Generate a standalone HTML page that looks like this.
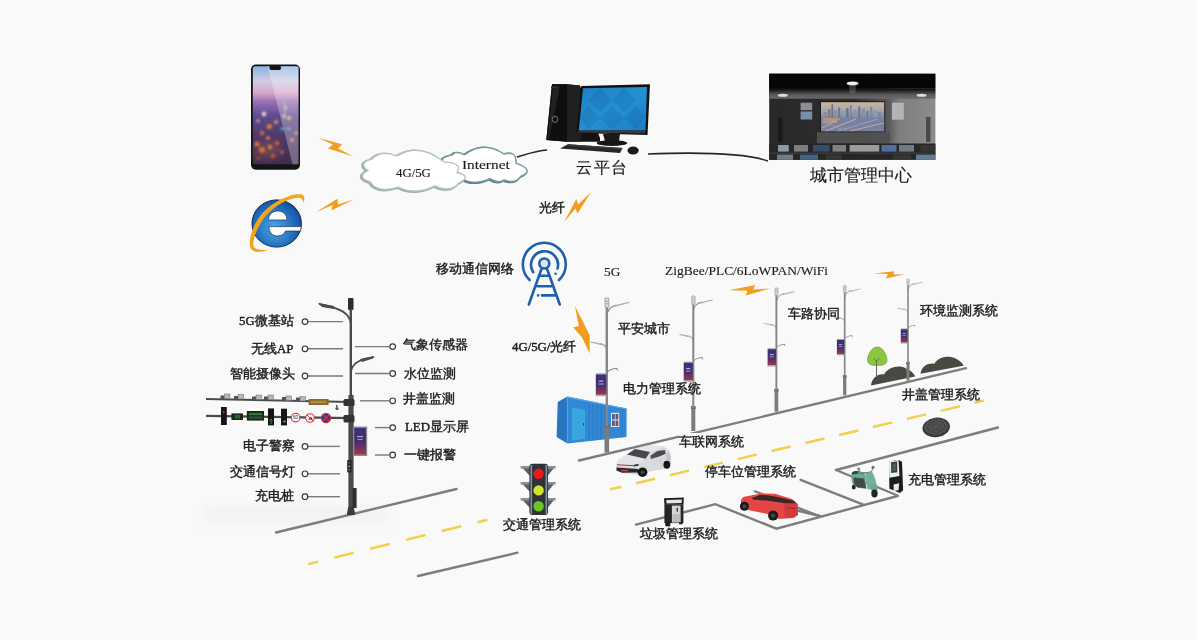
<!DOCTYPE html>
<html><head><meta charset="utf-8">
<style>
html,body{margin:0;padding:0;}
body{width:1197px;height:640px;overflow:hidden;background:#f9f9f9;position:relative;font-family:"Liberation Serif",serif;color:#222;}
svg{position:absolute;left:0;top:0;}
.l{-webkit-text-stroke:0.12px #1a1a1a !important;}
.t{position:absolute;white-space:nowrap;line-height:1;font-size:12.8px;color:#1a1a1a;-webkit-text-stroke:0.4px #1a1a1a;will-change:transform;}
</style></head><body>
<svg width="1197" height="640" viewBox="0 0 1197 640">
<defs>
  <filter id="blur05" x="-10%" y="-10%" width="120%" height="120%"><feGaussianBlur stdDeviation="0.6"/></filter>
  <filter id="blur1" x="-20%" y="-20%" width="140%" height="140%"><feGaussianBlur stdDeviation="1"/></filter>
  <filter id="blur3" x="-20%" y="-100%" width="140%" height="300%"><feGaussianBlur stdDeviation="4"/></filter>
  <linearGradient id="phoneScr" x1="0" y1="0" x2="0" y2="1">
    <stop offset="0" stop-color="#88b4e4"/>
    <stop offset="0.15" stop-color="#d0cce4"/>
    <stop offset="0.27" stop-color="#d8a8c8"/>
    <stop offset="0.36" stop-color="#9a70b8"/>
    <stop offset="0.5" stop-color="#604c90"/>
    <stop offset="0.7" stop-color="#4e3a6a"/>
    <stop offset="1" stop-color="#3e2c50"/>
  </linearGradient>
  <radialGradient id="ieg" cx="0.45" cy="0.55" r="0.6">
    <stop offset="0" stop-color="#4aa4e6"/>
    <stop offset="0.5" stop-color="#2a7cc8"/>
    <stop offset="0.88" stop-color="#1556a6"/>
    <stop offset="1" stop-color="#0c3470"/>
  </radialGradient>
  <linearGradient id="wall" x1="0" y1="0" x2="1" y2="0">
    <stop offset="0" stop-color="#282828"/>
    <stop offset="0.5" stop-color="#2e2e2e"/>
    <stop offset="0.72" stop-color="#5a5a5a"/>
    <stop offset="0.78" stop-color="#7e7e7e"/>
    <stop offset="1" stop-color="#8c8c8c"/>
  </linearGradient>
  <linearGradient id="cove" x1="0" y1="0" x2="0" y2="1">
    <stop offset="0" stop-color="#0a0a0a"/>
    <stop offset="0.6" stop-color="#5a5a5a"/>
    <stop offset="1" stop-color="#6a6a6a"/>
  </linearGradient>
  <linearGradient id="scr" x1="0" y1="0" x2="1" y2="1">
    <stop offset="0" stop-color="#1f7fc4"/>
    <stop offset="0.5" stop-color="#2390d4"/>
    <stop offset="1" stop-color="#1a80c8"/>
  </linearGradient>
  <linearGradient id="city" x1="0" y1="0" x2="0" y2="1">
    <stop offset="0" stop-color="#c8b4a0"/>
    <stop offset="0.25" stop-color="#b0a8a8"/>
    <stop offset="0.5" stop-color="#8a8aa0"/>
    <stop offset="0.75" stop-color="#7a7a98"/>
    <stop offset="1" stop-color="#5a6a88"/>
  </linearGradient>
  <linearGradient id="banner" x1="0" y1="0" x2="0" y2="1">
    <stop offset="0" stop-color="#3a2f7a"/>
    <stop offset="0.55" stop-color="#4a2f70"/>
    <stop offset="1" stop-color="#a03848"/>
  </linearGradient>
  <linearGradient id="cont" x1="0" y1="0" x2="1" y2="0">
    <stop offset="0" stop-color="#2f7fd0"/>
    <stop offset="1" stop-color="#3b95e0"/>
  </linearGradient>
  <linearGradient id="shadow" x1="0" y1="0" x2="0" y2="1">
    <stop offset="0" stop-color="#f9f9f9"/>
    <stop offset="0.5" stop-color="#efefef"/>
    <stop offset="1" stop-color="#f9f9f9"/>
  </linearGradient>
</defs>

<!-- ========== PHONE ========== -->
<rect x="251" y="64.5" width="49" height="105.2" rx="4.8" fill="#141414"/>
<rect x="252.8" y="66.3" width="45.7" height="97.9" rx="2.5" fill="url(#phoneScr)"/>
<ellipse cx="268" cy="150" rx="14" ry="9" fill="#a05a48" opacity="0.45" filter="url(#blur3)"/>
<g opacity="0.9" filter="url(#blur1)">
  <circle cx="264" cy="114" r="2.4" fill="#e8d8e0"/>
  <circle cx="258" cy="121" r="1.8" fill="#c8a0b0"/>
  <circle cx="269.4" cy="126.5" r="2.6" fill="#e8843a"/>
  <circle cx="276" cy="122" r="2" fill="#e0a060"/>
  <circle cx="262" cy="133" r="2.4" fill="#c87048"/>
  <circle cx="257" cy="144" r="2.6" fill="#e0783a"/>
  <circle cx="262" cy="150" r="3" fill="#d8743a"/>
  <circle cx="270" cy="147" r="2.2" fill="#e08848"/>
  <circle cx="277" cy="143" r="2.2" fill="#c86a3a"/>
  <circle cx="268" cy="138" r="1.8" fill="#f0a060"/>
  <circle cx="273" cy="156" r="2.4" fill="#b8583a"/>
  <circle cx="258" cy="158" r="2" fill="#a04a3a"/>
  <circle cx="282" cy="152" r="1.8" fill="#c86a4a"/>
  <circle cx="289" cy="118" r="2" fill="#f0b870"/>
  <circle cx="284" cy="116" r="1.6" fill="#f8d090"/>
  <circle cx="292" cy="140" r="2" fill="#d88a5a"/>
  <circle cx="296" cy="133" r="1.6" fill="#f0a070"/>
  <circle cx="286" cy="108" r="1.2" fill="#f8e0b0"/>
  <rect x="284" y="100" width="1.2" height="20" fill="#f0c8a0" opacity="0.6"/>
  <rect x="280.5" y="127.5" width="3.5" height="2.5" fill="#40c8d8"/>
  <rect x="287" y="127.5" width="3.5" height="2.5" fill="#40b0d0"/>
</g>
<polygon points="267.5,66.3 298.5,66.3 298.5,164.2 292.5,164.2" fill="#ffffff" opacity="0.28"/>
<rect x="269.4" y="65.5" width="11.6" height="4.5" rx="2" fill="#141414"/>

<!-- ========== IE ========== -->
<ellipse cx="276.7" cy="223.5" rx="24.7" ry="23.6" fill="url(#ieg)" stroke="#0c2550" stroke-width="1"/>
<ellipse cx="277" cy="239" rx="15" ry="6" fill="#5ab8f0" opacity="0.25" filter="url(#blur3)"/>
<path d="M 268.5 220 C 268.5 214.5 272.5 211 277.8 211 C 283 211 287 214.5 287 220 Z" fill="#fff" stroke="#10305e" stroke-width="0.7"/>
<path d="M 269 226.6 L 301.2 226.6 L 300.6 231 L 285.6 231 C 284.4 234 281.4 236 277.2 236 C 272 236 269 232 269 226.6 Z" fill="#fff" stroke="#10305e" stroke-width="0.7"/>
<path d="M 269 249.5 C 262 252.8 253 253.2 250.6 248 C 248 242 251.5 226 262.5 213 C 274 200.5 292 193 301 194.3 C 304.8 195 305.2 199 303.2 203.2 C 303.4 199.6 301.5 197.6 298 197.7 C 289 198 275.5 205 266.5 215 C 257 226.5 252.6 240 253.4 245.8 C 254.5 250 262 250.8 269 249.5 Z" fill="#f2a617"/>

<!-- ========== BOLTS ========== -->
<g fill="#f29d1e">
  <polygon points="318,137.8 342.3,144.3 338,148.5 353.5,156.5 328,148.5 333,144.5"/>
  <polygon points="316.2,211.9 337.4,198.7 338,204.5 354.2,199.2 331.3,210.6 332.6,205"/>
  <polygon points="564.1,222.3 576.3,199.1 578.2,204.4 591,191.9 577.6,213.5 575.4,208.5"/>
  <polygon points="574.9,306.1 578.8,326 573.3,327.4 582.2,337.8 589.6,353.6 589.8,335.2"/>
  <polygon points="728.8,290.2 755.2,285.1 753.2,289.6 770.1,288.5 745.7,295.5 747.3,290.7"/>
  <polygon points="873.5,273.4 894.3,271.2 893.2,274.5 904.4,274.3 886,278.5 887.9,273.9"/>
</g>

<!-- ========== CLOUDS ========== -->
<path d="M 461.6 178.5 Q 444.4 179.8 447.5 166.0 Q 435.0 158.6 452.4 154.9 Q 455.5 150.1 464.6 154.8 Q 484.2 140.1 504.1 154.1 Q 517.0 150.4 515.9 163.1 Q 535.8 170.2 520.5 176.5 Q 515.7 184.2 504.2 179.9 Q 499.0 183.9 489.9 178.7 Q 474.3 185.8 461.6 178.5 Z" fill="#fff" stroke="#5f8088" stroke-width="2.6" transform="translate(-1,0.6)"/>
<path d="M 461.6 178.5 Q 444.4 179.8 447.5 166.0 Q 435.0 158.6 452.4 154.9 Q 455.5 150.1 464.6 154.8 Q 484.2 140.1 504.1 154.1 Q 517.0 150.4 515.9 163.1 Q 535.8 170.2 520.5 176.5 Q 515.7 184.2 504.2 179.9 Q 499.0 183.9 489.9 178.7 Q 474.3 185.8 461.6 178.5 Z" fill="#fff" stroke="#7c98a0" stroke-width="1.4"/>
<path d="M 370.2 181.8 Q 355.8 176.9 368.1 170.5 Q 357.7 163.1 371.7 159.2 Q 381.7 149.4 396.9 156.0 Q 419.4 141.9 444.3 162.2 Q 463.0 162.7 457.0 172.5 Q 472.8 176.2 458.6 183.2 Q 451.4 193.1 434.7 185.8 Q 415.5 195.6 398.3 187.0 Q 377.7 193.6 370.2 181.8 Z" fill="#fff" stroke="#a0b0b0" stroke-width="2.8" transform="translate(-1.2,0.6)"/>
<path d="M 370.2 181.8 Q 355.8 176.9 368.1 170.5 Q 357.7 163.1 371.7 159.2 Q 381.7 149.4 396.9 156.0 Q 419.4 141.9 444.3 162.2 Q 463.0 162.7 457.0 172.5 Q 472.8 176.2 458.6 183.2 Q 451.4 193.1 434.7 185.8 Q 415.5 195.6 398.3 187.0 Q 377.7 193.6 370.2 181.8 Z" fill="#fff" stroke="#b8c4c4" stroke-width="1.3"/>

<!-- ========== CONNECT LINES ========== -->
<path d="M 517 157 C 527 154 537 150.5 547 150" fill="none" stroke="#2a2420" stroke-width="1.6"/>
<path d="M 648 154 C 700 152 745 153 768 161" fill="none" stroke="#2a2420" stroke-width="1.6"/>

<!-- ========== COMPUTER ========== -->
<polygon points="552,84.3 567,84.3 580,85.5 600,138 600,141.8 567,141.8 546.3,139.9" fill="#141414"/>
<polygon points="567,84.3 580,85.5 581,141.8 567,141.8" fill="#202020"/>
<polygon points="552,84.3 567,84.3 567,141.8 546.3,139.9" fill="#0e0e0e"/>
<polygon points="553,86 560,86 549,139 547.5,139" fill="#2a2a2a" opacity="0.7"/>
<rect x="551" y="86.5" width="6" height="1.6" fill="#333"/>
<ellipse cx="555" cy="119.3" rx="2.8" ry="3.2" fill="none" stroke="#8a8a8a" stroke-width="0.8"/>
<polygon points="581.3,86.1 650,84.2 647.5,134.9 576.3,133" fill="#121212"/>
<polygon points="583,88.3 647,87 645.5,130.5 578.8,130.5" fill="url(#scr)"/>
<g opacity="0.12" fill="#0a3a70">
  <polygon points="600,88 612,100 600,112 588,100"/><polygon points="624,88 636,100 624,112 612,100"/>
  <polygon points="612,106 624,118 612,130 600,118"/><polygon points="636,106 646,116 636,130 624,118"/>
  <polygon points="588,106 600,118 588,130 580,118"/>
</g>
<polygon points="578.8,130.5 645.5,130.5 645,133.5 577.5,132.5" fill="#3a3a3a"/>
<polygon points="603,134 620,134 619,141 605,141" fill="#1a1a1a"/>
<ellipse cx="611.9" cy="143" rx="15.3" ry="3" fill="#161616"/>
<polygon points="568,144.3 622.5,148 620,153 560,148.6" fill="#262626"/>
<polygon points="568,144.3 622.5,148 621.5,149.5 566,145.8" fill="#3a3a3a"/>
<ellipse cx="633.1" cy="150.5" rx="5.6" ry="4" fill="#1a1a1a"/>

<!-- ========== CITY CENTER ========== -->
<rect x="769.2" y="73.7" width="166.2" height="86.1" fill="url(#wall)"/>
<rect x="769.2" y="73.7" width="166.2" height="15" fill="#060606"/>
<rect x="769.2" y="88.7" width="166.2" height="10" fill="url(#cove)"/>
<ellipse cx="852.6" cy="83.4" rx="6" ry="2" fill="#f0f0f0" filter="url(#blur05)"/>
<polygon points="848.5,84 856.7,84 855,93 850,93" fill="#bbb" opacity="0.25" filter="url(#blur05)"/>
<ellipse cx="782.8" cy="95.2" rx="5" ry="1.5" fill="#ddd" filter="url(#blur05)"/>
<ellipse cx="921.6" cy="95.2" rx="5" ry="1.5" fill="#ddd" filter="url(#blur05)"/>
<rect x="820" y="101.2" width="65.2" height="31.1" fill="#1a1a1a"/>
<rect x="821" y="102.2" width="63.2" height="29.1" fill="url(#city)"/>
<g>
  <rect x="824" y="112" width="3" height="6" fill="#8a8c98"/>
  <rect x="828" y="109" width="2.5" height="9" fill="#7a8090"/>
  <rect x="831.5" y="104" width="1.6" height="14" fill="#6a7488"/>
  <rect x="834" y="110" width="3" height="8" fill="#8a90a0"/>
  <rect x="838" y="107.5" width="2.2" height="10.5" fill="#707a90"/>
  <rect x="842" y="111" width="3" height="7" fill="#9098a8"/>
  <rect x="846" y="108" width="2.6" height="10" fill="#6a7890"/>
  <rect x="850" y="105" width="1.8" height="13" fill="#7a88a0"/>
  <rect x="853.5" y="110" width="3" height="8" fill="#8a94a8"/>
  <rect x="858" y="106.5" width="2.4" height="11.5" fill="#6a7a98"/>
  <rect x="862" y="108.5" width="3" height="9.5" fill="#8090a8"/>
  <rect x="866" y="111" width="2.5" height="7" fill="#7080a0"/>
  <rect x="870" y="107" width="2.4" height="11" fill="#7a8aa8"/>
  <rect x="874" y="110" width="3" height="8" fill="#8a98b0"/>
  <rect x="878" y="112" width="3" height="6" fill="#7a88a0"/>
</g>
<rect x="821" y="117.5" width="63.2" height="13.8" fill="#7a80a0"/>
<g stroke-width="0.9" opacity="0.9">
  <path d="M 822 128 L 840 118.5" stroke="#d0b890"/>
  <path d="M 826 131 L 856 119" stroke="#c8c0b0"/>
  <path d="M 838 131 L 878 119" stroke="#a8a8c0"/>
  <path d="M 850 131 L 884 123" stroke="#c0b8a8"/>
  <path d="M 821 121 L 846 131" stroke="#9a98b8"/>
</g>
<rect x="823" y="118" width="14" height="5" fill="#d8a868" opacity="0.55"/>
<rect x="800.6" y="102.7" width="11.6" height="7.5" fill="#8a8e96"/>
<rect x="800.6" y="111.5" width="11.6" height="8" fill="#7a90a8"/>
<rect x="891.9" y="102.7" width="11.9" height="17" fill="#b4b4b4"/>
<rect x="817" y="132.3" width="72.7" height="11.2" fill="#505050"/>
<rect x="778" y="117" width="4.6" height="25" fill="#1a1a1a"/>
<rect x="926" y="117" width="4.5" height="25" fill="#4a4a4a"/>
<rect x="769.2" y="143.5" width="166.2" height="16.3" fill="#262626"/>
<rect x="769.2" y="152.5" width="166.2" height="1.5" fill="#3a3a3a"/>
<g opacity="0.75">
  <rect x="778" y="145" width="10.7" height="6.6" fill="#a8c4e0"/>
  <rect x="794" y="145" width="14" height="6.6" fill="#9a9a9a"/>
  <rect x="813" y="145" width="16.6" height="6.6" fill="#3a5a80"/>
  <rect x="832.5" y="145" width="13.5" height="6.6" fill="#a0a0a0"/>
  <rect x="849.6" y="145" width="29.7" height="6.6" fill="#c4c4c4"/>
  <rect x="881.5" y="145" width="15" height="6.6" fill="#5a8ad0"/>
  <rect x="899" y="145" width="15" height="6.6" fill="#8a98a8"/>
  <rect x="920.4" y="145" width="15" height="6.6" fill="#3a3a3a"/>
  <rect x="777" y="154.6" width="16" height="5.2" fill="#8a9aa8"/>
  <rect x="800" y="154.6" width="18" height="5.2" fill="#4a7aa8"/>
  <rect x="826" y="154.6" width="16" height="5.2" fill="#3a3a3a"/>
  <rect x="893" y="154.6" width="18" height="5.2" fill="#3a3a3a"/>
  <rect x="916" y="154.6" width="19" height="5.2" fill="#7a9ab8"/>
</g>

<!-- ========== TOWER ICON ========== -->
<circle cx="544.3" cy="263.5" r="4.3" fill="#dfe5ee"/>
<g fill="none" stroke="#1f5faf" stroke-width="2.6" stroke-linecap="round">
  <path d="M 529.6 280 A 21.5 21.5 0 1 1 559 280"/>
  <path d="M 533.3 272.2 A 13.5 13.5 0 1 1 557.5 268.5"/>
  <circle cx="544.3" cy="263.5" r="5"/>
  <path d="M 541.3 269.5 L 528.8 304.5 M 547.3 269.5 L 559.8 304.5 M 539.4 275.7 L 549.4 275.7 M 537.6 286.3 L 551.5 286.3 M 542 295.4 L 555 295.4"/>
</g>
<circle cx="555.6" cy="273.8" r="1.3" fill="#1f5faf"/>
<circle cx="538.1" cy="295.4" r="1.3" fill="#1f5faf"/>

<!-- ========== ROADS ========== -->
<rect x="203" y="506" width="185" height="19" rx="6" fill="#f3f3f3" filter="url(#blur3)"/>
<g stroke="#7d7d7d" stroke-width="2.4" fill="none" stroke-linecap="round">
  <line x1="276" y1="532.5" x2="456.5" y2="489"/>
  <line x1="579" y1="460.5" x2="966" y2="368.2"/>
  <line x1="418" y1="576" x2="517.5" y2="552.7"/>
  <line x1="836" y1="470" x2="998" y2="427.5"/>
  <polyline points="636,524.6 715.3,504.2 776.5,528.7 897.5,496"/>
  <line x1="800.6" y1="479.8" x2="862.7" y2="504.3"/>
  <line x1="795" y1="510" x2="820" y2="516"/>
  <line x1="836" y1="470" x2="897.5" y2="495.5"/>
</g>
<line x1="308" y1="564.1" x2="487.5" y2="519.7" stroke="#f1d04a" stroke-width="2.5" stroke-dasharray="20.09 16.79" stroke-dashoffset="9.8"/>
<line x1="610" y1="489.4" x2="984" y2="400.6" stroke="#f1d04a" stroke-width="2.5" stroke-dasharray="19.6 15.2" stroke-dashoffset="8"/>


<!-- ========== CONTAINER ========== -->
<polygon points="557.7,401.9 567.5,396.4 567.5,443.4 556.6,436.9" fill="#2a76c4"/>
<polygon points="567.5,396.4 626.6,408.4 626.6,436.9 567.5,443.4" fill="#3088d6"/>
<g stroke="#2670b8" stroke-width="0.7" opacity="0.9">
  <line x1="589" y1="401.5" x2="589" y2="441"/><line x1="593" y1="402.3" x2="593" y2="440.5"/>
  <line x1="597" y1="403.1" x2="597" y2="440"/><line x1="601" y1="403.9" x2="601" y2="439.6"/>
  <line x1="605" y1="404.7" x2="605" y2="439.2"/><line x1="622" y1="407.5" x2="622" y2="437.4"/>
  <line x1="560" y1="401" x2="560" y2="438"/><line x1="563" y1="399" x2="563" y2="440"/>
</g>
<polygon points="567.5,396.4 626.6,408.4 626.6,409.6 567.5,397.8" fill="#5aa8e8"/>
<polygon points="571.9,407.2 585,410 585,438.6 571.9,441" fill="#3aa6e0"/>
<rect x="583" y="423" width="0.8" height="2.5" fill="#1a3a5a"/>
<rect x="611" y="412.8" width="8.2" height="14.2" fill="#e4e4ea"/>
<rect x="612" y="414" width="2.8" height="5.5" fill="#5a5a80"/><rect x="615.5" y="414" width="2.8" height="5.5" fill="#5a5a80"/>
<rect x="612" y="420.5" width="2.8" height="5.5" fill="#5a5a80"/><rect x="615.5" y="420.5" width="2.8" height="5.5" fill="#5a5a80"/>

<!-- ========== TRAFFIC LIGHT ========== -->
<g>
  <path d="M 520.6 466 L 530 466 L 530 476 Z M 520.6 482 L 530 482 L 530 492 Z M 520.6 498 L 530 498 L 530 508 Z" fill="#5a6068"/>
  <path d="M 555.6 466 L 547.5 466 L 547.5 476 Z M 555.6 482 L 547.5 482 L 547.5 492 Z M 555.6 498 L 547.5 498 L 547.5 508 Z" fill="#5a6068"/>
  <rect x="520.6" y="466" width="9" height="2.5" fill="#8a9098"/><rect x="546.6" y="466" width="9" height="2.5" fill="#8a9098"/>
  <rect x="520.6" y="482" width="9" height="2.5" fill="#8a9098"/><rect x="546.6" y="482" width="9" height="2.5" fill="#8a9098"/>
  <rect x="520.6" y="498" width="9" height="2.5" fill="#8a9098"/><rect x="546.6" y="498" width="9" height="2.5" fill="#8a9098"/>
  <rect x="529.4" y="463.8" width="18.6" height="51.2" rx="3" fill="#2e3338"/>
  <rect x="530.5" y="465" width="1.6" height="49" fill="#8a9098"/>
  <rect x="545.5" y="465" width="1.6" height="49" fill="#8a9098"/>
  <circle cx="538.6" cy="473.8" r="5.2" fill="#e21d1d"/>
  <circle cx="538.6" cy="490.4" r="5.2" fill="#d2e03a"/>
  <circle cx="538.6" cy="506.2" r="5.2" fill="#6cc62a"/>
</g>

<!-- ========== WHITE CAR ========== -->
<g>
  <path d="M 616.3 463.5 L 618.3 460.3 L 626.5 454.8 L 634.5 448.8 L 649.4 445.4 L 664 446.4 L 668.8 450.5 L 670.8 456.5 L 670.6 465 L 668 468.2 L 650 471.5 L 639 475 L 622 473 L 616.3 470.5 Z" fill="#d9d9de"/>
  <polygon points="635,449 649.4,445.5 665,446.6 650,451.9" fill="#e6e6ea"/>
  <polygon points="650.6,455.6 657.5,451 665,450 665.6,453.8 660,456.3 650.8,459" fill="#4a4a50"/>
  <polygon points="668.8,450.5 670.8,456.5 670.6,465 668,468.2 666,455" fill="#c4c4ca"/>
  <polygon points="618.1,460.6 626.9,454.4 645.6,458.8 638.1,465 616.3,464" fill="#e4e4e8"/>
  <polygon points="626.9,454.4 635,449.1 650,451.9 645.6,458.8" fill="#46464c"/>
  <path d="M 617 464.8 L 633 465.6" stroke="#c83030" stroke-width="1"/>
  <path d="M 633.5 465.8 L 638.5 464.6" stroke="#2a2a2a" stroke-width="1.6"/>
  <polygon points="616.5,467.5 638,469 638,472.5 622,472.8 616.5,470.5" fill="#2a2a2a"/>
  <rect x="621" y="469.8" width="7" height="1.6" fill="#c84040"/>
  <path d="M 660 458 L 662 466" stroke="#b8b8be" stroke-width="0.6"/>
  <circle cx="642.5" cy="472.2" r="4.8" fill="#141414"/>
  <circle cx="642.5" cy="472.2" r="2" fill="#444"/>
  <ellipse cx="666.8" cy="464.8" rx="3.4" ry="4" fill="#141414"/>
</g>

<!-- ========== RED CAR ========== -->
<line x1="754" y1="491" x2="820.6" y2="516.5" stroke="#7d7d7d" stroke-width="2.4"/>
<g>
  <path d="M 740.9 500.6 L 743.1 496.9 L 751.9 495.3 L 755.6 494.4 L 761.3 493.4 L 775 493.8 L 791.3 498.8 L 795 501.3 L 797.5 503.8 L 797.8 515 L 793.1 518.1 L 778.8 519 L 770 514.4 L 748.1 510 L 741.3 509.4 Z" fill="#e44646"/>
  <polygon points="751.9,498.1 760,495 767.5,495.3 780,497.5 783.8,503.1 766.3,500.6 753,499.4" fill="#3a2626"/>
  <polygon points="780,497.5 793,500.6 796,503.4 783.8,503.4" fill="#3a2626"/>
  <polygon points="783.8,503.4 797.6,503.8 797.8,515 793.1,518.1 785,518" fill="#d43a3a"/>
  <path d="M 787 508 L 795 508.5" stroke="#a02828" stroke-width="1.2"/>
  <circle cx="773.1" cy="515.6" r="5" fill="#1a1a1a"/>
  <circle cx="773.1" cy="515.6" r="2.2" fill="#444"/>
  <circle cx="744.4" cy="506.3" r="4.5" fill="#1a1a1a"/>
  <circle cx="744.4" cy="506.3" r="2" fill="#444"/>
</g>

<!-- ========== SCOOTER ========== -->
<g>
  <path d="M 851 476.5 C 850.8 471.8 854 470.5 858 471 L 864.5 472.3 L 866.2 478 L 866.5 489 L 858 487.8 L 852.5 484 Z" fill="#6aa898"/>
  <path d="M 853.5 477.5 L 864 478.5 L 866 488.3 L 857 487.2 L 854 483 Z" fill="#404a48"/>
  <path d="M 852 472.8 C 853 471.2 856 470.8 858.5 471.3 L 857.5 474 C 855.5 473.8 853.5 474 852 474.6 Z" fill="#3a4644"/>
  <path d="M 865.6 472.7 L 872.3 472.2 C 874.6 476 876.2 481 876.6 486 L 873 489.5 L 867.4 489.3 Z" fill="#74ae9e"/>
  <path d="M 870.4 485 L 877.2 484.4 L 877.6 490.2 L 871 490.6 Z" fill="#6aa898"/>
  <ellipse cx="874.5" cy="493.6" rx="3.2" ry="4" fill="#242424"/>
  <ellipse cx="853.8" cy="487" rx="2" ry="2.6" fill="#2a2a2a"/>
  <path d="M 858.7 469.5 L 860 473.5 M 873 467.8 L 871.5 471.8 M 860 473.5 L 871.5 471.8" stroke="#5a6866" stroke-width="0.9" fill="none"/>
  <circle cx="858.7" cy="469.1" r="1.6" fill="#7e8e8c"/>
  <circle cx="873" cy="467.3" r="1.5" fill="#5e6e6c"/>
</g>

<!-- ========== CHARGER ========== -->
<g>
  <polygon points="889,461.3 898.5,460 902,461.7 903.1,490.2 900,493 889.4,488.8" fill="#1c1c1c"/>
  <polygon points="889,461.3 898.5,460 899.5,476 889.3,477.8" fill="#eeeeee"/>
  <polygon points="891.1,462.3 897.1,461.6 897.3,472.3 891.2,473" fill="#2c3836"/>
  <polygon points="892.2,463.5 896.2,463 896.3,471 892.3,471.5" fill="#4a5a58"/>
  <polygon points="893.6,484.6 899.2,483.2 898.5,490.2 893.6,490.9" fill="#e6e6e6"/>
</g>

<!-- ========== TRASH CAN ========== -->
<g>
  <polygon points="664,498.2 683.8,497.5 683.5,504.4 664.4,504.8" fill="#1e1e1e"/>
  <polygon points="666.3,500 681.9,499.6 681.6,503 666.5,503.4" fill="#e6e6e6"/>
  <rect x="664.4" y="504.4" width="19" height="18.7" fill="#262626"/>
  <rect x="671.9" y="505.6" width="8.7" height="16.9" fill="#d4d4d4"/>
  <rect x="672.5" y="514" width="7.5" height="8" fill="#bdbdbd"/>
  <rect x="676.6" y="507.8" width="1.3" height="3.8" fill="#2a2a2a"/>
  <rect x="665.3" y="522.5" width="5" height="3.8" fill="#1e1e1e"/>
  <rect x="679" y="522.5" width="3.5" height="1.8" fill="#1e1e1e"/>
</g>

<!-- ========== MANHOLE ========== -->
<ellipse cx="936.2" cy="427.4" rx="13.8" ry="9.8" fill="#3a3a3a" transform="rotate(-8 936.2 427.4)"/>
<ellipse cx="936.2" cy="426.8" rx="11.8" ry="8" fill="#505050" transform="rotate(-8 936.2 427.4)"/>
<ellipse cx="936.2" cy="426.8" rx="8.5" ry="5.6" fill="none" stroke="#383838" stroke-width="1.1" stroke-dasharray="1.5 1.6" transform="rotate(-8 936.2 427.4)"/>
<ellipse cx="936.2" cy="426.8" rx="4.5" ry="2.8" fill="none" stroke="#3a3a3a" stroke-width="1" stroke-dasharray="1.3 1.3" transform="rotate(-8 936.2 427.4)"/>

<!-- ========== TREE & BUSHES ========== -->
<path d="M 871 387 C 872 379 878 375 884 376 C 888 369 899 366 906 370 C 912 372 915 377 915 378 L 871 387 Z" fill="#4a4843" transform="translate(0,-1.6)"/>
<path d="M 920.5 374.5 C 921.5 367.5 927 363.5 934.5 364.5 C 938 358 948 355.5 956 359.5 C 961 362 963.5 365 963.5 366.5 Z" fill="#4a4843" transform="translate(0,-0.8)"/>
<path d="M 876.5 377 L 876.5 360 M 873.5 357.5 L 876.5 360.5 L 879.5 357.5" stroke="#666" stroke-width="1" fill="none"/>
<path d="M 877 347 C 883 347 887 355 887 360 C 887 364 883 366 877 365.5 C 870 366 867 363 867.5 359 C 868 354 872 347 877 347 Z" fill="#8cc63f" stroke="#6a9a40" stroke-width="0.6"/>
<path d="M 876.5 366 L 876.5 360 M 873.5 358 L 876.5 361 L 879.5 358" stroke="#5a6a50" stroke-width="0.9" fill="none"/>

<!-- ========== LEFT BIG POLE ========== -->
<g>
  <rect x="348" y="298" width="5.5" height="12" rx="1" fill="#2e2e2e"/>
  <rect x="349.6" y="309" width="2.4" height="90" fill="#4a4a4a"/>
  <rect x="348.4" y="395" width="5.2" height="120" fill="#4a4a4a"/>
  <path d="M 351 324 C 350 313 340 308 319 304" fill="none" stroke="#4a4a4a" stroke-width="1.8"/>
  <path d="M 318 303 L 334 306 L 334 309 L 322 307 Z" fill="#4a4a4a"/>
  <path d="M 351 372 C 352 362 362 359 374 357" fill="none" stroke="#4a4a4a" stroke-width="1.6"/>
  <path d="M 360 359 L 374 356 L 373 358.5 L 362 362 Z" fill="#4a4a4a"/>
  <path d="M 348.3 507 L 353.7 507 L 355 513 L 355 515 L 347 515 L 347 513 Z" fill="#3a3a3a"/>
  <rect x="352.6" y="488" width="4" height="20" fill="#2e2e2e"/>
  <!-- cross arms -->
  <polygon points="206,398 351,401 351,403 206,400" fill="#4a4a4a"/>
  <polygon points="206,414.8 351,417 351,419.2 206,417" fill="#4a4a4a"/>
  <rect x="343.5" y="399" width="11" height="7" rx="1.5" fill="#333"/>
  <rect x="343.5" y="415" width="11" height="7.5" rx="1.5" fill="#333"/>
  <g>
    <rect x="220.5" y="395.5" width="4" height="3.5" fill="#555"/><rect x="224.5" y="394" width="5.5" height="4.5" fill="#b8b8b8" stroke="#666" stroke-width="0.5"/>
    <rect x="234" y="396" width="4" height="3.5" fill="#555"/><rect x="238" y="394.5" width="5.5" height="4.5" fill="#b8b8b8" stroke="#666" stroke-width="0.5"/>
    <rect x="252" y="396.5" width="4" height="3.5" fill="#555"/><rect x="256" y="395" width="5.5" height="4.5" fill="#b8b8b8" stroke="#666" stroke-width="0.5"/>
    <rect x="264" y="396.5" width="4" height="3.5" fill="#555"/><rect x="268" y="395" width="5.5" height="4.5" fill="#b8b8b8" stroke="#666" stroke-width="0.5"/>
    <rect x="282" y="397" width="4" height="3.5" fill="#555"/><rect x="286" y="396" width="5.5" height="4.5" fill="#b8b8b8" stroke="#666" stroke-width="0.5"/>
    <rect x="296" y="397.5" width="4" height="3.5" fill="#555"/><rect x="300" y="396.5" width="5.5" height="4.5" fill="#b8b8b8" stroke="#666" stroke-width="0.5"/>
  </g>
  <rect x="308.6" y="399" width="20" height="6" fill="#8a6a2a"/><rect x="310.5" y="400.8" width="16" height="2.4" fill="#c8a050" opacity="0.6"/>
  <rect x="336" y="405" width="1.5" height="2" fill="#555"/><circle cx="337" cy="408.5" r="1.6" fill="#555"/>
  <!-- signals -->
  <rect x="221" y="407" width="5.8" height="18" fill="#151515"/>
  <path d="M 225 412 L 223 412 M 224 410.8 L 222.8 412 L 224 413.2" stroke="#e03030" stroke-width="0.9" fill="none"/>
  <rect x="231.4" y="413.4" width="11.6" height="6.6" fill="#1a2a1e"/>
  <rect x="235" y="415" width="5" height="3.5" fill="#3ab04a" opacity="0.45"/>
  <rect x="246.8" y="411" width="17.2" height="9.6" fill="#1a2a1e"/>
  <rect x="249" y="413" width="13" height="2.2" fill="#3ab04a" opacity="0.6"/>
  <rect x="249" y="416.5" width="13" height="2" fill="#3ab04a" opacity="0.4"/>
  <rect x="268" y="408.4" width="6" height="17" fill="#151515"/>
  <path d="M 271 424 L 271 419 M 269.5 420.5 L 271 419 L 272.5 420.5" stroke="#3ab04a" stroke-width="0.8" fill="none"/>
  <rect x="281" y="408.7" width="6" height="16.7" fill="#151515"/>
  <path d="M 282.5 421.5 L 285.5 421.5 M 284 420 L 285.5 421.5 L 284 423" stroke="#3ab04a" stroke-width="0.8" fill="none"/>
  <circle cx="295.6" cy="417.6" r="4.3" fill="#fff" stroke="#d83030" stroke-width="1.1"/>
  <text x="295.6" y="419.3" font-size="4.5" text-anchor="middle" fill="#222" font-family="Liberation Sans">60</text>
  <circle cx="310" cy="418" r="4.3" fill="#fff" stroke="#d83030" stroke-width="1.1"/>
  <path d="M 307.5 419.5 L 311 417 L 313 419.5 Z" fill="#333"/>
  <path d="M 307 415 L 313 421" stroke="#d83030" stroke-width="0.9"/>
  <circle cx="326" cy="418" r="4.6" fill="#2a3a9a" stroke="#d83030" stroke-width="1.2"/>
  <path d="M 323 415 L 329 421 M 329 415 L 323 421" stroke="#d83030" stroke-width="1.2"/>
  <!-- banner & light -->
  <rect x="353" y="426.5" width="14.2" height="29.5" fill="#8a8a8a"/><rect x="354.3" y="428" width="11.6" height="26.5" fill="url(#banner)"/><rect x="357" y="436" width="6" height="1.2" fill="#ddd" opacity="0.7"/><rect x="357.5" y="439" width="5" height="1" fill="#ddd" opacity="0.6"/>
  <rect x="347.2" y="460" width="4.2" height="12.6" rx="1" fill="#222"/>
  <circle cx="349.3" cy="462.8" r="0.9" fill="#e04030"/>
  <circle cx="349.3" cy="466.3" r="0.9" fill="#e0b030"/>
  <circle cx="349.3" cy="469.8" r="0.9" fill="#40b040"/>
</g>

<!-- label connectors -->
<g stroke="#7a7a7a" stroke-width="1.4">
  <line x1="308" y1="321.6" x2="343" y2="321.6"/>
  <line x1="308" y1="348.8" x2="343" y2="348.8"/>
  <line x1="308" y1="376" x2="343" y2="376"/>
  <line x1="308" y1="446.4" x2="340" y2="446.4"/>
  <line x1="308" y1="473.8" x2="340" y2="473.8"/>
  <line x1="308" y1="496.7" x2="340" y2="496.7"/>
  <line x1="355" y1="346.6" x2="389.5" y2="346.6"/>
  <line x1="355" y1="373.5" x2="389.5" y2="373.5"/>
  <line x1="360" y1="400.8" x2="389.5" y2="400.8"/>
  <line x1="375" y1="427.6" x2="389.5" y2="427.6"/>
  <line x1="375" y1="455" x2="389.5" y2="455"/>
</g>
<g fill="#fff" stroke="#3a3a3a" stroke-width="1.2">
  <circle cx="305" cy="321.6" r="2.8"/><circle cx="305" cy="348.8" r="2.8"/><circle cx="305" cy="376" r="2.8"/>
  <circle cx="305" cy="446.4" r="2.8"/><circle cx="305" cy="473.8" r="2.8"/><circle cx="305" cy="496.7" r="2.8"/>
  <circle cx="392.7" cy="346.6" r="2.8"/><circle cx="392.7" cy="373.5" r="2.8"/><circle cx="392.7" cy="400.8" r="2.8"/>
  <circle cx="392.7" cy="427.6" r="2.8"/><circle cx="392.7" cy="455" r="2.8"/>
</g>

<!-- ========== STREET POLES ========== -->

<defs>
  <g id="pole">
    <rect x="-2.3" y="127" width="4.6" height="27.6" fill="#7c7c7c"/>
    <rect x="-2.7" y="126" width="5.4" height="3.5" fill="#6e6e6e"/>
    <rect x="-1.2" y="8" width="2.4" height="120" fill="#878787"/>
    <rect x="-1.8" y="0" width="3.8" height="9.5" rx="0.5" fill="#dcdcdc" stroke="#8a8a8a" stroke-width="0.7"/>
    <rect x="-1.2" y="3" width="2.6" height="0.7" fill="#999"/>
    <rect x="-1.2" y="5.5" width="2.6" height="0.7" fill="#999"/>
    <path d="M 0 19 C 0.3 11 5 8 10 7" fill="none" stroke="#8a8a8a" stroke-width="1.2"/>
    <path d="M 7.5 8 C 12 6 18 4.6 22.5 4 L 22.3 5.2 C 18 6.2 12 7.6 8 9 Z" fill="#b0b0b0"/>
    <path d="M 0 52 C -0.5 48 -3 46 -7.5 45.5" fill="none" stroke="#8a8a8a" stroke-width="1.1"/>
    <path d="M -16 43.6 C -12 44 -8 45 -5.5 46 L -6 47.2 C -9 46.2 -13 45.3 -16 44.8 Z" fill="#b0b0b0"/>
    <path d="M 0 75 C 1.5 72.5 5 70.8 10.5 70.3" fill="none" stroke="#8a8a8a" stroke-width="1.1"/>
    <path d="M 9.8 70.3 L 11 72.6" stroke="#777" stroke-width="1"/>
    <rect x="-11" y="75.2" width="10.8" height="1.6" fill="#a8a8a8"/>
    <rect x="-11" y="76.5" width="10.5" height="20.5" fill="url(#banner)"/>
    <rect x="-11" y="96.6" width="10.8" height="1.6" fill="#a8a8a8"/>
    <rect x="-8" y="82.5" width="4.5" height="1.2" fill="#e0d8f0" opacity="0.8"/>
    <rect x="-8.5" y="85.5" width="5.5" height="1" fill="#e0d8f0" opacity="0.7"/>
  </g>
</defs>
<use href="#pole" transform="translate(606.8,298)"/>
<use href="#pole" transform="translate(693.3,296) scale(0.873)"/>
<use href="#pole" transform="translate(776.4,288) scale(0.80)"/>
<use href="#pole" transform="translate(844.7,285.6) scale(0.71)"/>
<use href="#pole" transform="translate(908,279) scale(0.657)"/>


</svg>

<!-- ========== TEXT ========== -->
<div class="t l" style="left:396px;top:167px;">4G/5G</div>
<div class="t l" style="left:462px;top:159px;transform:scaleX(1.2);transform-origin:0 0;">Internet</div>
<div class="t" style="left:576px;top:160px;font-size:16px;letter-spacing:1.6px;-webkit-text-stroke:0.15px #1a1a1a;">云平台</div>
<div class="t" style="left:810px;top:167px;font-size:17px;-webkit-text-stroke:0.15px #1a1a1a;">城市管理中心</div>
<div class="t" style="left:539px;top:202px;">光纤</div>
<div class="t" style="left:436px;top:263px;">移动通信网络</div>
<div class="t l" style="left:604px;top:266px;transform:scaleX(1.04);transform-origin:0 0;">5G</div>
<div class="t l" style="left:665px;top:265px;transform:scaleX(1.053);transform-origin:0 0;">ZigBee/PLC/6LoWPAN/WiFi</div>
<div class="t" style="left:618px;top:323px;">平安城市</div>
<div class="t" style="left:512px;top:341px;">4G/5G/光纤</div>
<div class="t" style="left:623px;top:383px;">电力管理系统</div>
<div class="t" style="left:788px;top:308px;">车路协同</div>
<div class="t" style="left:920px;top:305px;">环境监测系统</div>
<div class="t" style="left:902px;top:389px;">井盖管理系统</div>
<div class="t" style="left:678.5px;top:433px;background:#f9f9f9;padding:3px 0 0 0;">车联网系统</div>
<div class="t" style="left:705px;top:466px;">停车位管理系统</div>
<div class="t" style="left:908px;top:474px;">充电管理系统</div>
<div class="t" style="left:503px;top:519px;">交通管理系统</div>
<div class="t" style="left:640px;top:528px;">垃圾管理系统</div>

<div class="t" style="left:239px;top:315px;">5G微基站</div>
<div class="t" style="left:251px;top:343px;">无线AP</div>
<div class="t" style="left:230px;top:368px;">智能摄像头</div>
<div class="t" style="left:243px;top:440px;">电子警察</div>
<div class="t" style="left:230px;top:466px;">交通信号灯</div>
<div class="t" style="left:255px;top:490px;">充电桩</div>
<div class="t" style="left:403px;top:339px;">气象传感器</div>
<div class="t" style="left:404px;top:368px;">水位监测</div>
<div class="t" style="left:403px;top:393px;">井盖监测</div>
<div class="t" style="left:405px;top:421px;">LED显示屏</div>
<div class="t" style="left:404px;top:449px;">一键报警</div>
</body></html>
